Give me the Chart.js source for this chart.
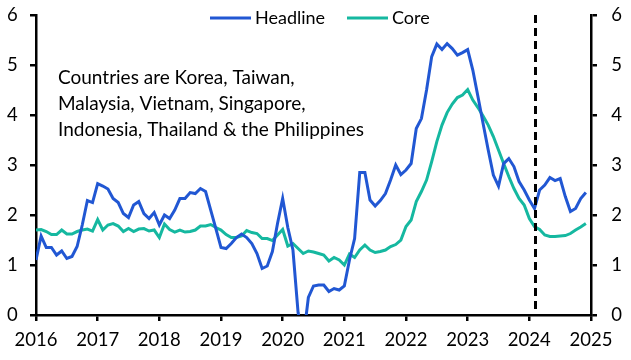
<!DOCTYPE html>
<html>
<head>
<meta charset="utf-8">
<script src="https://cdn.jsdelivr.net/npm/chart.js@4.4.1/dist/chart.umd.min.js"></script>
<style>
  html, body { margin: 0; padding: 0; background: #fff; }
  #wrap { position: relative; width: 631px; height: 360px; }
</style>
</head>
<body>
<div id="wrap"><canvas id="c" width="631" height="360"></canvas></div>
<script>
// ---- data (monthly, Jan 2016 – Dec 2024) ----
const startYear = 2016;
const headline = [
  1.10, 1.58, 1.35, 1.35, 1.20, 1.28, 1.13, 1.17, 1.37, 1.80, 2.29, 2.25,
  2.63, 2.58, 2.52, 2.33, 2.25, 2.03, 1.95, 2.20, 2.27, 2.03, 1.93, 2.05,
  1.80, 2.00, 1.93, 2.10, 2.33, 2.33, 2.45, 2.43, 2.53, 2.47, 2.10, 1.73,
  1.35, 1.33, 1.43, 1.55, 1.62, 1.55, 1.43, 1.23, 0.93, 0.98, 1.27, 1.83,
  2.33, 1.75, 1.30, 0.05, -0.50, 0.35, 0.58, 0.60, 0.60, 0.47, 0.53, 0.50,
  0.58, 1.10, 1.53, 2.85, 2.85, 2.30, 2.18, 2.29, 2.43, 2.70, 3.00, 2.81,
  2.90, 3.03, 3.73, 3.93, 4.50, 5.17, 5.42, 5.31, 5.43, 5.33, 5.20, 5.25,
  5.31, 4.90, 4.37, 3.83, 3.30, 2.80, 2.58, 3.03, 3.13, 2.97, 2.67, 2.50,
  2.30, 2.13, 2.50, 2.60, 2.75, 2.69, 2.73, 2.37, 2.07, 2.13, 2.33, 2.45
];
const core = [
  1.70, 1.71, 1.67, 1.61, 1.61, 1.70, 1.62, 1.62, 1.67, 1.70, 1.72, 1.68,
  1.91, 1.70, 1.80, 1.83, 1.78, 1.67, 1.73, 1.67, 1.72, 1.73, 1.68, 1.70,
  1.55, 1.82, 1.71, 1.66, 1.70, 1.66, 1.67, 1.70, 1.78, 1.78, 1.81, 1.75,
  1.70, 1.61, 1.55, 1.55, 1.58, 1.69, 1.65, 1.63, 1.53, 1.53, 1.49, 1.60,
  1.71, 1.38, 1.43, 1.33, 1.23, 1.28, 1.26, 1.23, 1.20, 1.08, 1.15, 1.10,
  1.00, 1.22, 1.15, 1.30, 1.40, 1.30, 1.25, 1.27, 1.30, 1.37, 1.41, 1.50,
  1.77, 1.90, 2.27, 2.47, 2.70, 3.07, 3.47, 3.80, 4.05, 4.22, 4.35, 4.40,
  4.51, 4.30, 4.15, 3.98, 3.80, 3.57, 3.30, 3.03, 2.77, 2.53, 2.33, 2.20,
  1.93, 1.77, 1.71, 1.60, 1.57, 1.57, 1.58, 1.59, 1.63, 1.70, 1.76, 1.83
];
const yearTicks = [2016, 2017, 2018, 2019, 2020, 2021, 2022, 2023, 2024, 2025];
const yTicks = [0, 1, 2, 3, 4, 5, 6];
const seriesNames = ["Headline", "Core"];
const noteLines = ["Countries are Korea, Taiwan,", "Malaysia, Vietnam, Singapore,", "Indonesia, Thailand & the Philippines"];
const markerDate = 2024.1;

const BLUE = '#2157d3';
const TEAL = '#15b8a0';
const FONT = 'Lato, "Open Sans", sans-serif';

const toXY = arr => arr.map((v, i) => ({ x: startYear + i / 12, y: v }));

const overlay = {
  id: 'overlay',
  afterDatasetsDraw(chart) {
    const { ctx, chartArea, scales } = chart;
    const xm = scales.x.getPixelForValue(markerDate);
    ctx.save();
    ctx.strokeStyle = '#000';
    ctx.lineWidth = 3;
    ctx.setLineDash([8, 5]);
    ctx.beginPath();
    ctx.moveTo(xm, chartArea.top);
    ctx.lineTo(xm, chartArea.bottom);
    ctx.stroke();
    ctx.restore();
  },
  afterDraw(chart) {
    const { ctx } = chart;
    ctx.save();
    ctx.font = '18px ' + FONT;
    ctx.textBaseline = 'middle';
    ctx.fillStyle = '#000';
    const items = [
      { name: seriesNames[0], color: BLUE, x0: 210, x1: 251, tx: 255 },
      { name: seriesNames[1], color: TEAL, x0: 347, x1: 388, tx: 392 }
    ];
    items.forEach(it => {
      ctx.strokeStyle = it.color;
      ctx.lineWidth = 3;
      ctx.beginPath();
      ctx.moveTo(it.x0, 18);
      ctx.lineTo(it.x1, 18);
      ctx.stroke();
      ctx.fillText(it.name, it.tx, 18);
    });
    ctx.font = '19px ' + FONT;
    noteLines.forEach((t, i) => ctx.fillText(t, 58, 78 + i * 26));
    ctx.restore();
  }
};

const axisCommon = {
  border: { display: true, color: '#000', width: 2.5 },
  grid: { display: true, drawOnChartArea: false, drawTicks: true, tickLength: 6, color: '#000', lineWidth: 2.5 },
};

new Chart(document.getElementById('c'), {
  type: 'line',
  data: {
    datasets: [
      { label: seriesNames[0], data: toXY(headline), borderColor: BLUE, borderWidth: 3, pointRadius: 0, tension: 0, fill: false },
      { label: seriesNames[1], data: toXY(core), borderColor: TEAL, borderWidth: 3, pointRadius: 0, tension: 0, fill: false }
    ]
  },
  options: {
    responsive: false,
    animation: false,
    events: [],
    layout: { padding: { top: 4, right: 9, bottom: 0, left: 7 } },
    plugins: { legend: { display: false }, tooltip: { enabled: false } },
    scales: {
      x: {
        type: 'linear', min: 2016, max: 2025,
        ...axisCommon,
        afterBuildTicks: s => { s.ticks = yearTicks.map(v => ({ value: v })); },
        afterFit: s => { s.height = 45; },
        ticks: { color: '#000', font: { family: FONT, size: 18.5 }, padding: 8, maxRotation: 0, autoSkip: false, callback: v => String(v) }
      },
      y: {
        position: 'left', min: 0, max: 6,
        ...axisCommon,
        afterBuildTicks: s => { s.ticks = yTicks.map(v => ({ value: v })); },
        afterFit: s => { s.width = 29; },
        ticks: { color: '#000', font: { family: FONT, size: 18.5 }, padding: 4, crossAlign: 'far' }
      },
      y2: {
        position: 'right', min: 0, max: 6,
        ...axisCommon,
        afterBuildTicks: s => { s.ticks = yTicks.map(v => ({ value: v })); },
        afterFit: s => { s.width = 31; },
        ticks: { color: '#000', font: { family: FONT, size: 18.5 }, padding: 4, crossAlign: 'far' }
      }
    }
  },
  plugins: [overlay]
});
</script>
</body>
</html>
